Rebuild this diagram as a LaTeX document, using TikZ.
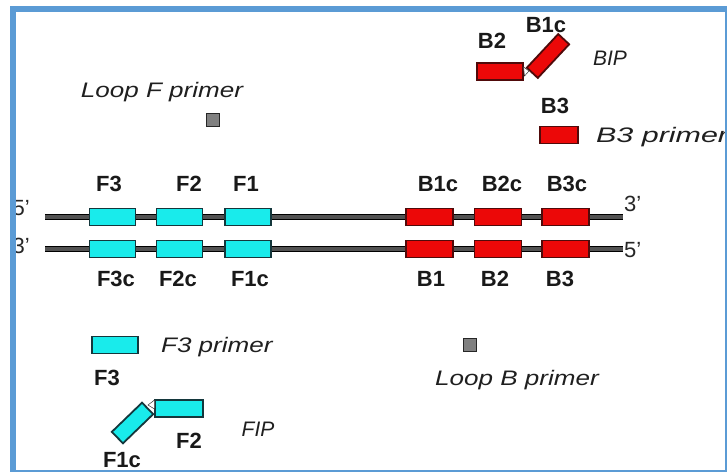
\documentclass[tikz,border=0pt]{standalone}
\usepackage{fontspec}
\setmainfont{Liberation Sans}
\newfontfamily\primerfont[FakeStretch=1.24]{Liberation Sans}
\usetikzlibrary{positioning}

\begin{document}
\begin{tikzpicture}[x=1pt, y=-1pt,
  font=\fontsize{22}{24}\selectfont,
  fbox/.style={draw=cFline, fill=cF, line width=1.8pt, minimum width=46pt,
    minimum height=17pt, inner sep=0pt},
  bbox/.style={draw=cBline, fill=cB, line width=1.8pt, minimum width=47pt,
    minimum height=17pt, inner sep=0pt},
  loopsq/.style={draw=black!85, fill=black!50, line width=1pt,
    minimum size=13pt, inner sep=0pt},
  strand/.style={draw=black, double=black!68, double distance=3.6pt, line width=1.6pt},
  lbl/.style={font=\bfseries\fontsize{22}{24}\selectfont, text=black!90, inner sep=0pt},
  pname/.style={font=\primerfont\itshape\fontsize{21}{24}\selectfont, text=black!88,
    inner sep=0pt},
  pshort/.style={font=\itshape\fontsize{21}{24}\selectfont, text=black!88, inner sep=0pt},
  endlbl/.style={font=\fontsize{22}{24}\selectfont, text=black!85, inner sep=0pt},
  notch/.style={fill=white, draw=black!80, line width=0.5pt},
]

\definecolor{cF}{RGB}{25,235,235}
\definecolor{cFline}{RGB}{20,55,60}
\definecolor{cB}{RGB}{236,8,8}
\definecolor{cBline}{RGB}{80,10,10}
\definecolor{cFrame}{RGB}{91,155,213}

\useasboundingbox (0,0) rectangle (727,472);

%% Geometry: the two strands, in pixels from the top left corner.
\def\yt{217}
\def\yb{249}

%% ---------- the two strands ----------
\coordinate (top5) at (45,\yt);
\coordinate (top3) at (623,\yt);
\coordinate (bot3) at (45,\yb);
\coordinate (bot5) at (623,\yb);
\draw[strand] (top5) -- (top3);
\draw[strand] (bot3) -- (bot5);

\node[endlbl, anchor=east] (endT5) at (30,208) {5'};
\node[endlbl, anchor=east] (endB3) at (30,246) {3'};
\node[endlbl, anchor=west] (endT3) at (624,204) {3'};
\node[endlbl, anchor=west] (endB5) at (624,250) {5'};

%% ---------- target regions on both strands ----------
\foreach \n/\x in {3/112.5, 2/179.5, 1/248} {
  \node[fbox] (Ft\n) at (\x,\yt) {};
  \node[fbox] (Fb\n) at (\x,\yb) {};
}
\foreach \n/\x in {1/429.5, 2/498, 3/565.5} {
  \node[bbox] (Bt\n) at (\x,\yt) {};
  \node[bbox] (Bb\n) at (\x,\yb) {};
}

\foreach \lbl/\x in {F3/109, F2/189, F1/246, B1c/438, B2c/502, B3c/567}
  \node[lbl] (up\lbl) at (\x,184) {\lbl};
\foreach \lbl/\x in {F3c/116, F2c/178, F1c/250, B1/431, B2/495, B3/560}
  \node[lbl] (dn\lbl) at (\x,279) {\lbl};

%% ---------- loop primers ----------
\node[pname] (loopFtxt) at (162,92) {Loop F primer};
\node[loopsq] (loopF) at (213,120) {};
\node[loopsq] (loopB) at (470,345) {};
\node[pname] (loopBtxt) at (517,380) {Loop B primer};

%% ---------- BIP ----------
\node[bbox, minimum width=46pt] (bipB2) at (500,71.5) {};
\node[bbox, minimum width=46pt, minimum height=15pt, rotate=47] (bipB1c) at (548,56) {};
\draw[notch] (523.5,67) -- (529,71) -- (524.5,76) -- cycle;
\node[lbl] (bipB2lbl) at (492,41) {B2};
\node[lbl] (bipB1clbl) at (546,25) {B1c};
\node[pshort] (bip) at (610,58) {BIP};

%% ---------- B3 primer ----------
\node[lbl] (b3lbl) at (555,106) {B3};
\node[bbox, minimum width=38pt] (b3p) at (559,135) {};
\node[pname, right=17pt of b3p, yshift=-2pt] (b3txt) {\scalebox{1.17}[1]{B3 primer}};

%% ---------- F3 primer ----------
\node[fbox] (f3p) at (115,345) {};
\node[pname, right=22pt of f3p, yshift=-2pt] (f3txt) {F3 primer};
\node[lbl] (f3lbl) at (107,378) {F3};

%% ---------- FIP ----------
\node[fbox, minimum width=48pt] (fipF2) at (179,408.5) {};
\node[fbox, minimum width=42pt, minimum height=16pt, rotate=44] (fipF1c) at (132.5,423) {};
\draw[notch] (154.5,400) -- (154.5,409) -- (148,405) -- cycle;
\node[lbl] (fipF2lbl) at (189,441) {F2};
\node[lbl] (fipF1clbl) at (122,460) {F1c};
\node[pshort] (fip) at (258,429) {FIP};

%% ---------- frame ----------
\fill[cFrame] (10,6) rectangle (16,472);
\fill[cFrame] (10,6) rectangle (727,11.5);
\draw[cFrame, line width=2pt] (726,6) -- (726,471) -- (10,471);

\end{tikzpicture}
\end{document}
